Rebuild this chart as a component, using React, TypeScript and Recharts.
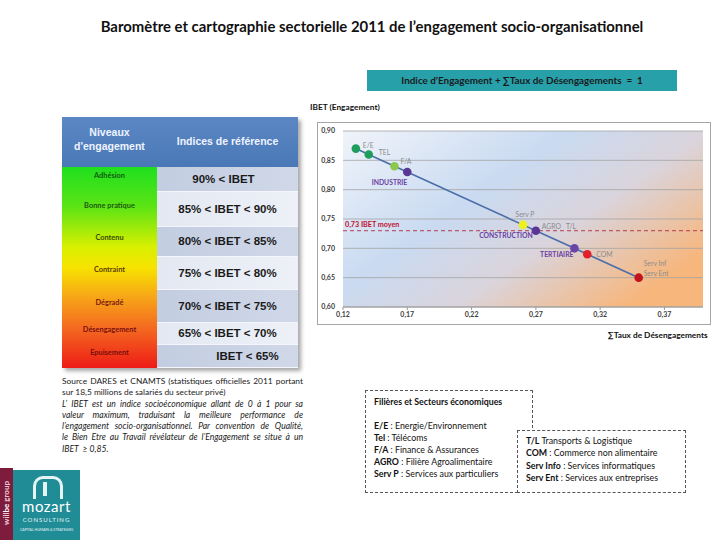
import React from 'react';
import { ComposedChart, Scatter, XAxis, YAxis, CartesianGrid, ReferenceLine } from 'recharts';

// secteurs (points du nuage), abscisse = somme des taux de désengagement, ordonnée = IBET
const tauxDesengagement = [0.13, 0.14, 0.16, 0.17, 0.26, 0.27, 0.3, 0.31, 0.35];
const ibet = [0.87, 0.86, 0.84, 0.83, 0.74, 0.73, 0.7, 0.69, 0.65];
const pointColors = ['#1f9d5c', '#1f9d5c', '#8cc84e', '#5a3796', '#eef21c', '#5a3796', '#6845a6', '#e1202b', '#c2131d'];
const filieres = [['E/E'], ['TEL'], ['F/A'], [], ['Serv P'], ['AGRO   T/L'], [], ['COM'], ['Serv Inf', 'Serv Ent']];
const secteurs = ['', '', '', 'INDUSTRIE', '', 'CONSTRUCTION', 'TERTIAIRE', '', ''];
const ibetMoyen = 0.73;
const xTicks = [0.12, 0.17, 0.22, 0.27, 0.32, 0.37];
const yTicks = [0.6, 0.65, 0.7, 0.75, 0.8, 0.85, 0.9];

const niveaux = ['Adhésion', 'Bonne pratique', 'Contenu', 'Contraint', 'Dégradé', 'Désengagement', 'Epuisement'];
const indices = ['90% < IBET', '85% < IBET < 90%', '80% < IBET < 85%', '75% < IBET < 80%', '70% < IBET < 75%', '65% < IBET < 70%', 'IBET < 65%'];

const sourceLines = [
  'Source DARES et CNAMTS (statistiques officielles 2011 portant',
  'sur 18,5 millions de salariés du secteur privé)',
];
const noteLines = [
  'L’ IBET est un indice socioéconomique allant de 0 à 1 pour sa',
  'valeur maximum, traduisant la meilleure performance de',
  'l’engagement socio-organisationnel. Par convention de Qualité,',
  'le Bien Etre au Travail révélateur de l’Engagement se situe à un',
  'IBET  ≥ 0,85.',
];

const glossaire1 = [
  ['E/E', ' : Energie/Environnement'],
  ['Tel', ' : Télécoms'],
  ['F/A', ' : Finance & Assurances'],
  ['AGRO', ' : Filière Agroalimentaire'],
  ['Serv P', ' : Services aux particuliers'],
];
const glossaire2 = [
  ['T/L', ' Transports & Logistique'],
  ['COM', ' : Commerce non alimentaire'],
  ['Serv Info', ' : Services informatiques'],
  ['Serv Ent', ' : Services aux entreprises'],
];

const points = tauxDesengagement.map((x, i) => ({ x, y: ibet[i], idx: i }));

// layout of tags around each point
const TAG_POS: any[] = [
  { dx: 7, dy: -4, anchor: 'start' },
  { dx: 10, dy: -2, anchor: 'start' },
  { dx: 6, dy: -5, anchor: 'start' },
  null,
  { dx: 2, dy: -11, anchor: 'middle' },
  { dx: 6, dy: -5, anchor: 'start' },
  null,
  { dx: 9, dy: 0, anchor: 'start' },
  { dx: 5, dy: -15, anchor: 'start' },
];
const SECT_POS: any[] = [null, null, null, { dx: 0, dy: 10 }, null, { dx: -3, dy: 4 }, { dx: -1, dy: 6 }, null, null];

const ROW_TOPS = [167, 192, 227, 257, 290, 323, 345, 368];
const LEVEL_TEXT = ['#145a14', '#1c5a10', '#3a4a00', '#5a3c00', '#7a1a10', '#7a1010', '#7a0c0c'];

const FONT = 'Lato, "Open Sans", sans-serif';
const fmt = (v: number) => v.toFixed(2).replace('.', ',');

const renderPoint = (props: any) => {
  const { cx, cy, payload } = props;
  const i = payload.idx;
  const tp = TAG_POS[i];
  const sp = SECT_POS[i];
  return (
    <g>
      <circle cx={cx} cy={cy} r={4.3} fill={pointColors[i]} />
      {tp &&
        filieres[i].map((t, k) => (
          <text key={k} x={cx + tp.dx} y={cy + tp.dy + k * 10.6} textAnchor={tp.anchor} dominantBaseline="central"
            fontSize={6.8} fill="#8c8c8c" fontFamily={FONT} style={{ whiteSpace: 'pre' }}>
            {t}
          </text>
        ))}
      {sp && (
        <text x={cx + sp.dx} y={cy + sp.dy} textAnchor="end" dominantBaseline="central" fontSize={6.8}
          fontWeight={700} fill="#6a3fa3" fontFamily={FONT}>
          {secteurs[i]}
        </text>
      )}
    </g>
  );
};

function Barometre() {
  return (
    <div style={{ position: 'absolute', left: 317, top: 122, width: 392, height: 201, border: '1px solid #a6a6a6', background: '#fff' }}>
      <ComposedChart width={392} height={201} data={points} margin={{ top: 8, right: 7, bottom: 0, left: 0 }}>
        <defs>
          <linearGradient id="plotBg" x1="0" y1="0" x2="1" y2="0.7">
            <stop offset="0%" stopColor="#f0f4fa" />
            <stop offset="42%" stopColor="#c9daf1" />
            <stop offset="68%" stopColor="#dad4dc" />
            <stop offset="100%" stopColor="#f7b67c" />
          </linearGradient>
        </defs>
        <CartesianGrid horizontal vertical={false} fill="url(#plotBg)" stroke="#a3a3a3" strokeWidth={0.8} />
        <XAxis type="number" dataKey="x" domain={[0.12, 0.4]} ticks={xTicks} allowDataOverflow tickFormatter={fmt}
          height={17} tickSize={3} tickMargin={2} stroke="#9a9a9a"
          tick={{ fontSize: 7, fill: '#404040', fontWeight: 700, fontFamily: FONT }} />
        <YAxis type="number" dataKey="y" domain={[0.6, 0.9]} ticks={yTicks} tickFormatter={fmt} width={25}
          axisLine={false} tickLine={false}
          tick={{ fontSize: 7, fill: '#404040', fontWeight: 700, fontFamily: FONT }} />
        <ReferenceLine y={ibetMoyen} stroke="#b02a40" strokeDasharray="4 3" strokeWidth={0.9}
          label={(p: any) => (
            <text x={p.viewBox.x + 2} y={p.viewBox.y - 4} fontSize={7.2} fontWeight={700} fill="#c0102a" fontFamily={FONT}>
              0,73 IBET moyen
            </text>
          )} />
        <Scatter data={points} line={{ stroke: '#4a6ea8', strokeWidth: 1.6 }} shape={renderPoint} isAnimationActive={false} />
      </ComposedChart>
    </div>
  );
}

const lineStyle = (last: boolean): React.CSSProperties => ({
  textAlign: 'justify',
  textAlignLast: last ? 'left' : 'justify',
  whiteSpace: 'pre',
  height: 11.3,
});

export default function App() {
  return (
    <div style={{ position: 'absolute', left: 0, top: 0, width: 720, height: 540, background: '#fff', overflow: 'hidden', fontFamily: FONT, color: '#111' }}>
      <div style={{ position: 'absolute', left: 52, width: 640, top: 17, textAlign: 'center', fontSize: 14.9, fontWeight: 700 }}>
        Baromètre et cartographie sectorielle 2011 de l’engagement socio-organisationnel
      </div>

      <div style={{ position: 'absolute', left: 367, top: 70, width: 310, height: 21, background: '#27a0aa', fontSize: 9.9, fontWeight: 700, lineHeight: '21px', textAlign: 'center', color: '#1a1a1a' }}>
        Indice d’Engagement + ∑Taux de Désengagements&nbsp; =&nbsp; 1
      </div>

      <div style={{ position: 'absolute', left: 310, top: 102, fontSize: 8.3, fontWeight: 700 }}>IBET (Engagement)</div>
      <Barometre />
      <div style={{ position: 'absolute', left: 608, top: 330, fontSize: 8.3, fontWeight: 700 }}>∑Taux de Désengagements</div>

      {/* table of levels */}
      <div style={{ position: 'absolute', left: 62, top: 117, width: 236, height: 251, boxShadow: '3px 3px 4px rgba(0,0,0,0.35)' }}>
        <div style={{ position: 'absolute', left: 0, top: 0, width: 236, height: 50, background: 'linear-gradient(#5b88c4, #4a78b6)' }} />
        <div style={{ position: 'absolute', left: 0, top: 8, width: 95, textAlign: 'center', color: '#eef3ff', fontFamily: 'Arial, "Liberation Sans", sans-serif', fontWeight: 700, fontSize: 10.5, lineHeight: '14px' }}>
          Niveaux<br />d'engagement
        </div>
        <div style={{ position: 'absolute', left: 95, top: 18, width: 141, textAlign: 'center', color: '#eef3ff', fontFamily: 'Arial, "Liberation Sans", sans-serif', fontWeight: 700, fontSize: 10.5 }}>
          Indices de référence
        </div>
        <div style={{ position: 'absolute', left: 0, top: 50, width: 95, height: 201, background: 'linear-gradient(#1ee01e 0%, #5de414 20%, #d9f000 40%, #f7e300 50%, #f7a418 65%, #f46a20 80%, #ee1c16 100%)' }} />
        {niveaux.map((n, i) => {
          const top = ROW_TOPS[i] - 117;
          const h = ROW_TOPS[i + 1] - ROW_TOPS[i];
          return (
            <React.Fragment key={n}>
              <div style={{ position: 'absolute', left: 0, top: top + h / 2 - 9, width: 95, textAlign: 'center', fontSize: 7.4, fontWeight: 700, color: LEVEL_TEXT[i] }}>{n}</div>
              <div style={{ position: 'absolute', left: 95, top, width: 141, height: h - 1, borderBottom: '1px solid #f4f6fb', background: i % 2 === 0 ? 'linear-gradient(90deg,#c3cde1,#d0d8e8)' : 'linear-gradient(90deg,#e3e8f2,#edf0f7)' }} />
              <div style={{ position: 'absolute', left: i === 6 ? 115 : i === 0 ? 91 : 95, top: top + h / 2 - 7, width: 141, textAlign: 'center', fontFamily: 'Arial, "Liberation Sans", sans-serif', fontWeight: 700, fontSize: 11.5, color: '#1a1a1a' }}>
                {indices[i]}
              </div>
            </React.Fragment>
          );
        })}
      </div>

      <div style={{ position: 'absolute', left: 62, top: 376, width: 241, fontSize: 8.4, lineHeight: '11.3px', color: '#222' }}>
        {sourceLines.map((l, i) => (
          <div key={l} style={lineStyle(i === sourceLines.length - 1)}>{l}</div>
        ))}
        {noteLines.map((l, i) => (
          <div key={l} style={{ ...lineStyle(i === noteLines.length - 1), fontStyle: 'italic', fontSize: 8.6 }}>{l}</div>
        ))}
      </div>

      {/* legend boxes */}
      <div style={{ position: 'absolute', left: 365, top: 390, width: 166, height: 101, border: '1px dashed #555', fontSize: 8.8, lineHeight: '12px' }}>
        <div style={{ position: 'absolute', left: 8, top: 5, fontWeight: 700 }}>Filières et Secteurs économiques</div>
        <div style={{ position: 'absolute', left: 8, top: 29 }}>
          {glossaire1.map(([k, v]) => (
            <div key={k} style={{ whiteSpace: 'nowrap' }}><b>{k}</b>{v}</div>
          ))}
        </div>
      </div>
      <div style={{ position: 'absolute', left: 517, top: 430, width: 167, height: 61, border: '1px dashed #555', background: '#fff', fontSize: 8.8, lineHeight: '12.3px' }}>
        <div style={{ position: 'absolute', left: 8, top: 4 }}>
          {glossaire2.map(([k, v]) => (
            <div key={k} style={{ whiteSpace: 'nowrap' }}><b>{k}</b>{v}</div>
          ))}
        </div>
      </div>

      {/* logo */}
      <div style={{ position: 'absolute', left: 0, top: 468, width: 13, height: 72, background: '#7d1c3c' }}>
        <div style={{ position: 'absolute', left: -24, top: 30, width: 60, transform: 'rotate(-90deg)', color: '#f0c8d4', fontSize: 8, fontWeight: 700, textAlign: 'center' }}>
          will<span style={{ color: '#fff' }}>be</span> group
        </div>
      </div>
      <div style={{ position: 'absolute', left: 13, top: 470, width: 67, height: 70, background: '#1f8c96' }}>
        <div style={{ position: 'absolute', left: 20, top: 6, width: 24, height: 20, border: '3px solid #e6f4f6', borderBottom: 'none', borderRadius: '10px 10px 0 0' }} />
        <div style={{ position: 'absolute', left: 30, top: 12, width: 4, height: 14, background: '#e6f4f6' }} />
        <div style={{ position: 'absolute', left: 0, top: 27, width: 67, textAlign: 'center', color: '#fff', fontSize: 15, fontWeight: 400, letterSpacing: 0.5 }}>mozart</div>
        <div style={{ position: 'absolute', left: 0, top: 46, width: 67, textAlign: 'center', color: '#e6f4f6', fontSize: 6, letterSpacing: 1 }}>CONSULTING</div>
        <div style={{ position: 'absolute', left: 0, top: 58, width: 67, textAlign: 'center', color: '#e6f4f6', fontSize: 3.5 }}>CAPITAL HUMAIN & STRATEGIES</div>
      </div>
    </div>
  );
}
